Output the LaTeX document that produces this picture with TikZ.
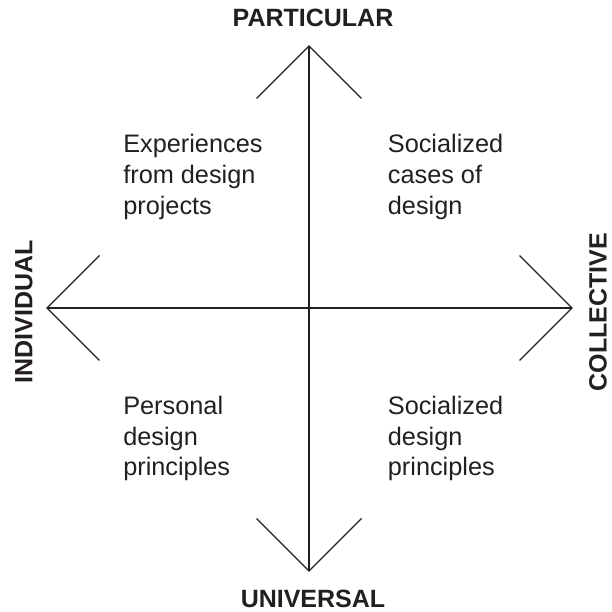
\documentclass[tikz,border=0pt]{standalone}
\usepackage{fontspec}
\setmainfont{Liberation Sans}
\definecolor{ink}{RGB}{35,31,32}
\begin{document}
\begin{tikzpicture}[x=1pt, y=1pt, line width=1.2pt, ink,
		pole/.style = {inner sep=0pt, font=\bfseries\fontsize{25}{30}\selectfont},
		quad/.style = {inner sep=0pt, anchor=base west, align=left, font=\fontsize{25.3}{30.7}\selectfont}]
		\useasboundingbox (-309,-304) rectangle (302,308);
		% axis ends and the arms of the open heads
		\coordinate (top) at (0,262);
		\coordinate (bottom) at (0,-263);
		\coordinate (left) at (-262,0);
		\coordinate (right) at (263,0);
		\coordinate (top l) at (-52.5,209.5);
		\coordinate (top r) at (52.5,209.5);
		\coordinate (bottom l) at (-52.5,-210.5);
		\coordinate (bottom r) at (52.5,-210.5);
		\coordinate (left u) at (-209.5,52.5);
		\coordinate (left d) at (-209.5,-52.5);
		\coordinate (right u) at (210.5,52.5);
		\coordinate (right d) at (210.5,-52.5);
		\draw (top) -- (bottom);
		\draw (left) -- (right);
		\draw (top l) -- (top) -- (top r);
		\draw (bottom l) -- (bottom) -- (bottom r);
		\draw (left u) -- (left) -- (left d);
		\draw (right u) -- (right) -- (right d);
		% poles
		\node [pole] (particular) at (4,289.7) {PARTICULAR};
		\node [pole] (universal) at (4,-291) {UNIVERSAL};
		\node [pole, rotate=90] (individual) at (-285,-4) {INDIVIDUAL};
		\node [pole, rotate=90] (collective) at (289,-4) {COLLECTIVE};
		% quadrants (base is the last line)
		\node [quad] (experiences) at (-186.3,93.9) {Experiences\\from design\\projects};
		\node [quad] (cases) at (78.3,93.9) {Socialized\\cases of\\design};
		\node [quad] (personal) at (-186.3,-167.7) {Personal\\design\\principles};
		\node [quad] (principles) at (78.3,-167.7) {Socialized\\design\\principles};
	\end{tikzpicture}
\end{document}
